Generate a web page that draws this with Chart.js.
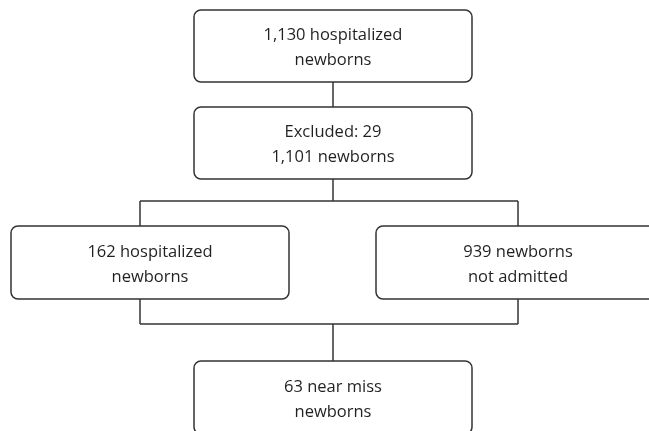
<!DOCTYPE html>
<html>
<head>
<meta charset="utf-8">
<script src="https://cdn.jsdelivr.net/npm/chart.js@4/dist/chart.umd.min.js"></script>
<style>
  html, body { margin: 0; padding: 0; background: #fff; }
  canvas { display: block; }
</style>
</head>
<body>
<canvas id="flow" width="649" height="431"></canvas>
<script>
// Flow data
const nodeIds = ['total', 'included', 'hospitalized', 'notAdmitted', 'nearMiss'];
const nodeCounts = [1130, 1101, 162, 939, 63];
const nodeText = [
    ['{n} hospitalized', 'newborns'],
    ['Excluded: {x}', '{n} newborns'],
    ['{n} hospitalized', 'newborns'],
    ['{n} newborns', 'not admitted'],
    ['{n} near miss', 'newborns']
];
const excludedCount = 29;
// parent -> children links
const links = [['total', 'included'], ['included', 'hospitalized'], ['included', 'notAdmitted'],
               ['hospitalized', 'nearMiss'], ['notAdmitted', 'nearMiss']];

// Layout (scale units = px of the picture)
const LAYOUT = {
    total:        { x0: 194, x1: 472, y0: 10,  y1: 82 },
    included:     { x0: 194, x1: 472, y0: 107, y1: 179 },
    hospitalized: { x0: 11,  x1: 289, y0: 226, y1: 299 },
    notAdmitted:  { x0: 376, x1: 660, y0: 226, y1: 299 },
    nearMiss:     { x0: 194, x1: 472, y0: 361, y1: 434 },
    splitY: 201,
    joinY: 324,
    branchX: { hospitalized: 140, notAdmitted: 518 }
};

const STYLE = {
    stroke: '#333',
    lineWidth: 1.5,
    radius: 7,
    font: '16.5px "Open Sans", "Noto Sans", sans-serif',
    text: '#231f20',
    lineGap: 25,
    textShift: 2
};

function fmt(n) {
    return n.toLocaleString('en-US');
}

function nodeLines(i) {
    return nodeText[i].map(t => t.replace('{n}', fmt(nodeCounts[i])).replace('{x}', excludedCount));
}

const flowPlugin = {
    id: 'flow',
    afterDatasetsDraw(chart) {
        const { ctx, scales: { x, y } } = chart;
        const px = v => x.getPixelForValue(v);
        const py = v => y.getPixelForValue(v);

        ctx.save();
        ctx.strokeStyle = STYLE.stroke;
        ctx.lineWidth = STYLE.lineWidth;

        // each segment once, so shared trunks are not stroked twice
        const done = new Set();
        const seg = (xa, ya, xb, yb) => {
            const key = [xa, ya, xb, yb].join(',');
            if (done.has(key)) return;
            done.add(key);
            ctx.beginPath();
            ctx.moveTo(px(xa), py(ya));
            ctx.lineTo(px(xb), py(yb));
            ctx.stroke();
        };
        const mid = b => (b.x0 + b.x1) / 2;

        // connectors: straight link, split into branches, or join of branches
        links.forEach(([a, b]) => {
            const A = LAYOUT[a], B = LAYOUT[b];
            if (LAYOUT.branchX[b]) {
                const bx = LAYOUT.branchX[b];
                seg(mid(A), A.y1, mid(A), LAYOUT.splitY);
                seg(mid(A), LAYOUT.splitY, bx, LAYOUT.splitY);
                seg(bx, LAYOUT.splitY, bx, B.y0);
            } else if (LAYOUT.branchX[a]) {
                const ax = LAYOUT.branchX[a];
                seg(ax, A.y1, ax, LAYOUT.joinY);
                seg(ax, LAYOUT.joinY, mid(B), LAYOUT.joinY);
                seg(mid(B), LAYOUT.joinY, mid(B), B.y0);
            } else {
                seg(mid(A), A.y1, mid(B), B.y0);
            }
        });

        // boxes
        ctx.font = STYLE.font;
        ctx.textAlign = 'center';
        ctx.textBaseline = 'middle';
        nodeIds.forEach((id, i) => {
            const b = LAYOUT[id];
            const X0 = px(b.x0), X1 = px(b.x1), Y0 = py(b.y0), Y1 = py(b.y1);
            ctx.fillStyle = '#fff';
            ctx.beginPath();
            ctx.roundRect(X0, Y0, X1 - X0, Y1 - Y0, STYLE.radius);
            ctx.fill();
            ctx.stroke();

            const lines = nodeLines(i);
            const cx = (X0 + X1) / 2;
            const cy = (Y0 + Y1) / 2 + STYLE.textShift;
            ctx.fillStyle = STYLE.text;
            lines.forEach((ln, k) => {
                ctx.fillText(ln, cx, cy + (k - (lines.length - 1) / 2) * STYLE.lineGap);
            });
        });
        ctx.restore();
    }
};

new Chart(document.getElementById('flow'), {
    type: 'scatter',
    data: {
        datasets: [{
            data: nodeIds.map(id => ({
                x: (LAYOUT[id].x0 + LAYOUT[id].x1) / 2,
                y: (LAYOUT[id].y0 + LAYOUT[id].y1) / 2
            })),
            pointRadius: 0
        }]
    },
    options: {
        responsive: false,
        animation: false,
        layout: { padding: 0 },
        plugins: { legend: { display: false }, tooltip: { enabled: false } },
        scales: {
            x: { type: 'linear', min: 0, max: 649, display: false },
            y: { type: 'linear', min: 0, max: 431, reverse: true, display: false }
        }
    },
    plugins: [flowPlugin]
});
</script>
</body>
</html>
